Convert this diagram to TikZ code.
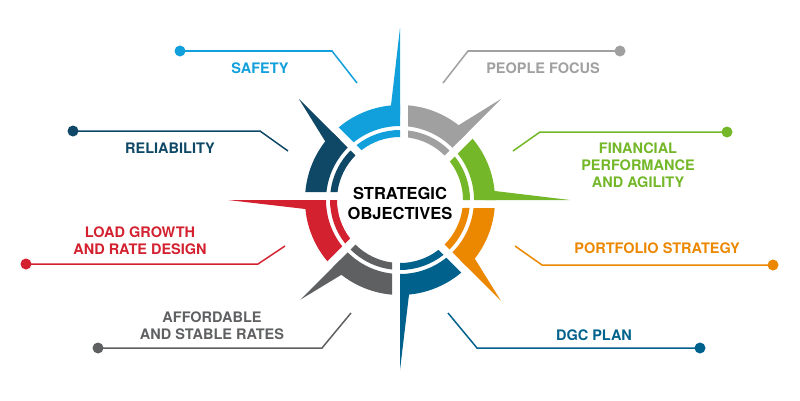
\documentclass[tikz,border=0pt]{standalone}
\usepackage{fontspec}
\setmainfont{TeX Gyre Heros}
\definecolor{cSafety}{RGB}{18,160,220}
\definecolor{cRel}{RGB}{15,72,102}
\definecolor{cPeople}{RGB}{160,160,160}
\definecolor{cFin}{RGB}{116,184,42}
\definecolor{cPort}{RGB}{236,136,0}
\definecolor{cDGC}{RGB}{0,98,140}
\definecolor{cAfford}{RGB}{95,96,98}
\definecolor{cLoad}{RGB}{211,33,48}
\newcommand\compseg[4]{%
  \pgfmathsetmacro\segA{#2+45-asin(8/95)}%
  \pgfmathsetmacro\segB{#2+45-asin(8/74)}%
  \pgfmathsetmacro\segC{#2+45-asin(8/70)}%
  \pgfmathsetmacro\segD{#2+45-asin(8/63)}%
  \fill[#1] (#2:95) arc[start angle=#2,end angle=\segA,radius=95] -- (\segB:74) arc[start angle=\segB,end angle=#2,radius=74] -- cycle;
  \fill[#1] (#2:70) arc[start angle=#2,end angle=\segC,radius=70] -- (\segD:63) arc[start angle=\segD,end angle=#2,radius=63] -- cycle;
  \fill[#1] (#2:85) -- (#2:#3) -- ({#2+#4}:94.6) -- ({#2+#4}:85) -- cycle;
}
\tikzset{
  lbl/.style={font=\fontsize{14.5}{17}\selectfont\bfseries, align=center, inner sep=0pt},
  dotnode/.style={circle, inner sep=0pt, minimum size=11pt},
  leader/.style={line width=1.5pt},
}
\begin{document}
\begin{tikzpicture}[x=1pt,y=1pt]
\useasboundingbox (0,0) rectangle (800,400);
\fill[white] (0,0) rectangle (800,400);
% compass
\begin{scope}[shift={(400,200)}]
  \compseg{cSafety}{90}{172}{5.5}
  \compseg{cPeople}{45}{143}{7}
  \compseg{cFin}{0}{170}{5.5}
  \compseg{cPort}{-45}{143}{7}
  \compseg{cDGC}{-90}{170}{5.5}
  \compseg{cAfford}{225}{141}{7}
  \compseg{cLoad}{180}{172}{5.5}
  \compseg{cRel}{135}{143}{7}
\end{scope}
\node[font=\fontsize{16.5}{20}\selectfont\bfseries, align=center, inner sep=0pt] (title) at (400,197) {STRATEGIC\\OBJECTIVES};

% labels
\node[lbl, text=cSafety] (tS) at (260,332) {SAFETY};
\node[lbl, text=cRel] (tR) at (170,252) {RELIABILITY};
\node[lbl, text=cPeople] (tP) at (543,332) {PEOPLE FOCUS};
\node[lbl, text=cFin] (tF) at (638,234.5) {FINANCIAL\\PERFORMANCE\\AND AGILITY};
\node[lbl, text=cPort] (tO) at (657,152) {PORTFOLIO STRATEGY};
\node[lbl, text=cDGC] (tD) at (594,65) {DGC PLAN};
\node[lbl, text=cLoad] (tL) at (140,159.5) {LOAD GROWTH\\AND RATE DESIGN};
\node[lbl, text=cAfford] (tA) at (212,74.5) {AFFORDABLE\\AND STABLE RATES};

% leader lines
\coordinate (cS) at (332,349); \coordinate (eS) at (357,317);
\coordinate (cR) at (260,269); \coordinate (eR) at (288,249);
\coordinate (cP) at (468,349); \coordinate (eP) at (443,317);
\coordinate (cF) at (540,268); \coordinate (eF) at (513,249);
\coordinate (cO) at (542,135); \coordinate (eO) at (515,154);
\coordinate (cD) at (477,52);  \coordinate (eD) at (448,87);
\coordinate (cL) at (258,136); \coordinate (eL) at (285,154);
\coordinate (cA) at (322,52);  \coordinate (eA) at (351,87);

\node[dotnode, fill=cSafety] (dS) at (180,349) {};
\node[dotnode, fill=cRel] (dR) at (73,269) {};
\node[dotnode, fill=cPeople] (dP) at (620,349) {};
\node[dotnode, fill=cFin] (dF) at (727,268) {};
\node[dotnode, fill=cPort] (dO) at (773,135) {};
\node[dotnode, fill=cDGC] (dD) at (700,52) {};
\node[dotnode, fill=cLoad] (dL) at (26,136) {};
\node[dotnode, fill=cAfford] (dA) at (98,52) {};

\draw[leader, cSafety] (dS.center) -- (cS) -- (eS);
\draw[leader, cRel] (dR.center) -- (cR) -- (eR);
\draw[leader, cPeople] (dP.center) -- (cP) -- (eP);
\draw[leader, cFin] (dF.center) -- (cF) -- (eF);
\draw[leader, cPort] (dO.center) -- (cO) -- (eO);
\draw[leader, cDGC] (dD.center) -- (cD) -- (eD);
\draw[leader, cLoad] (dL.center) -- (cL) -- (eL);
\draw[leader, cAfford] (dA.center) -- (cA) -- (eA);
\end{tikzpicture}
\end{document}
